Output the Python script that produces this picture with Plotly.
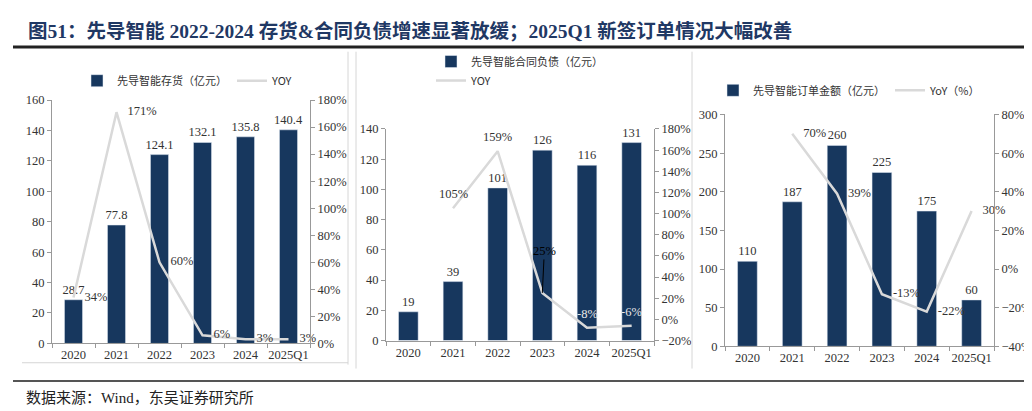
import plotly.graph_objects as go

W, H = 1032, 411

years = ['2020', '2021', '2022', '2023', '2024', '2025Q1']

# 存货
inventory = [28.7, 77.8, 124.1, 132.1, 135.8, 140.4]
inventory_yoy = [34, 171, 60, 6, 3, 3]

# 合同负债
contract_liab = [19, 39, 101, 126, 116, 131]
contract_yoy = [None, 105, 159, 25, -8, -6]

# 订单金额
orders = [110, 187, 260, 225, 175, 60]
orders_yoy = [None, 70, 39, -13, -22, 30]

BAR = '#17375e'
LINE = '#d9d9d9'
AXIS = '#999999'
NUM_FONT = 'Liberation Serif, Noto Sans CJK SC'
TXT = '#333333'


def px_x(v):
    return v / W


def px_y(v):
    return 1 - v / H


def pct(vals):
    return ['' if v is None else f'{v}%' for v in vals]


# invisible markers just to push the labels away from the line
ghost = dict(size=16, color='rgba(0,0,0,0)')

fig = go.Figure()

# panel 1
fig.add_trace(go.Bar(x=years, y=inventory, name='先导智能存货（亿元）', marker_color=BAR, width=0.42,
                     text=[f'{v:.1f}' for v in inventory], textposition='outside', cliponaxis=False,
                     constraintext='none', textfont=dict(family=NUM_FONT, size=12.5, color=TXT),
                     xaxis='x', yaxis='y', legend='legend'))
fig.add_trace(go.Scatter(x=years, y=inventory_yoy, name='YOY', mode='lines+markers+text',
                         line=dict(color=LINE, width=2.5), marker=ghost, text=pct(inventory_yoy),
                         textposition='middle right', cliponaxis=False,
                         textfont=dict(family=NUM_FONT, size=12.5, color=TXT),
                         xaxis='x', yaxis='y2', legend='legend'))

# panel 2
fig.add_trace(go.Bar(x=years, y=contract_liab, name='先导智能合同负债（亿元）', marker_color=BAR, width=0.44,
                     text=[str(v) for v in contract_liab], textposition='outside', cliponaxis=False,
                     constraintext='none', textfont=dict(family=NUM_FONT, size=12.5, color=TXT),
                     xaxis='x2', yaxis='y3', legend='legend2'))
fig.add_trace(go.Scatter(x=years, y=contract_yoy, name='YOY', mode='lines',
                         line=dict(color=LINE, width=2.5), cliponaxis=False,
                         xaxis='x2', yaxis='y4', legend='legend2'))

# panel 3
fig.add_trace(go.Bar(x=years, y=orders, name='先导智能订单金额（亿元）', marker_color=BAR, width=0.44,
                     text=[str(v) for v in orders], textposition='outside', cliponaxis=False,
                     constraintext='none', textfont=dict(family=NUM_FONT, size=12.5, color=TXT),
                     xaxis='x3', yaxis='y5', legend='legend3'))
fig.add_trace(go.Scatter(x=years, y=orders_yoy, name='YoY（%）', mode='lines+markers+text',
                         line=dict(color=LINE, width=2.5), marker=ghost, text=pct(orders_yoy),
                         textposition='middle right', cliponaxis=False,
                         textfont=dict(family=NUM_FONT, size=12.5, color=TXT),
                         xaxis='x3', yaxis='y6', legend='legend3'))

tick_font = dict(family=NUM_FONT, size=12.5, color=TXT)


def xax(x0, x1, anchor):
    return dict(domain=[px_x(x0), px_x(x1)], anchor=anchor, type='category',
                range=[-0.5, len(years) - 0.5], tickangle=0,
                showline=True, linecolor=AXIS, ticks='outside', tickson='boundaries',
                ticklen=4, tickcolor=AXIS, tickfont=tick_font, showgrid=False)


def yax_left(y_top, y_bot, anchor, rng, dtick):
    return dict(domain=[px_y(y_bot), px_y(y_top)], anchor=anchor, range=rng, dtick=dtick,
                showline=True, linecolor=AXIS, ticks='outside', ticklen=4, tickcolor=AXIS,
                tickfont=tick_font, showgrid=False, zeroline=False)


def yax_right(over, anchor, rng):
    return dict(overlaying=over, anchor=anchor, side='right', range=rng, dtick=20, ticksuffix='%',
                showline=True, linecolor=AXIS, ticks='outside', ticklen=4, tickcolor=AXIS,
                tickfont=tick_font, showgrid=False, zeroline=False)


leg_font = dict(family='Noto Sans CJK SC, Liberation Serif', size=11, color=TXT)

fig.update_layout(
    width=W, height=H, margin=dict(l=0, r=0, t=0, b=0),
    paper_bgcolor='white', plot_bgcolor='white',
    xaxis=xax(44, 302, 'y'),
    yaxis=yax_left(88, 340, 'x', [0, 160], 20),
    yaxis2=yax_right('y', 'x', [0, 180]),
    xaxis2=xax(378, 646, 'y3'),
    yaxis3=yax_left(118, 337, 'x2', [0, 140], 20),
    yaxis4=yax_right('y3', 'x2', [-20, 180]),
    xaxis3=xax(717, 986, 'y5'),
    yaxis5=yax_left(103, 343, 'x3', [0, 300], 50),
    yaxis6=yax_right('y5', 'x3', [-40, 80]),
    legend=dict(x=px_x(69), y=px_y(68), xanchor='left', yanchor='middle', orientation='h',
                font=leg_font, bgcolor='rgba(0,0,0,0)', itemwidth=30),
    legend2=dict(x=px_x(423), y=px_y(58), xanchor='left', yanchor='middle', orientation='v',
                 font=leg_font, bgcolor='rgba(0,0,0,0)', itemwidth=30, tracegroupgap=0),
    legend3=dict(x=px_x(705), y=px_y(78), xanchor='left', yanchor='middle', orientation='h',
                 font=leg_font, bgcolor='rgba(0,0,0,0)', itemwidth=30),
    showlegend=True,
)

# panel 2 YOY labels, placed above each point
for i, v in enumerate(contract_yoy):
    if v is None:
        continue
    label_color = '#e8e8e8' if i >= 4 else TXT
    if years[i] == '2023':
        # this one sits higher, with a black leader line
        fig.add_annotation(x=i, y=v, xref='x2', yref='y4', text=f'{v}%', showarrow=True,
                           ax=2, ay=-42, arrowhead=0, arrowwidth=1, arrowcolor='black',
                           font=dict(family=NUM_FONT, size=12.5, color='black'))
    else:
        fig.add_annotation(x=i, y=v, xref='x2', yref='y4', text=f'{v}%', showarrow=False,
                           yshift=14, font=dict(family=NUM_FONT, size=12.5, color=label_color))

# title, footer
fig.add_annotation(x=px_x(18), y=px_y(17), xref='paper', yref='paper', xanchor='left', yanchor='middle',
                   text='<b>图51：先导智能 2022-2024 存货&合同负债增速显著放缓；2025Q1 新签订单情况大幅改善</b>',
                   showarrow=False, font=dict(family=NUM_FONT, size=19.5, color='#1f3864'))
fig.add_annotation(x=px_x(16), y=px_y(396), xref='paper', yref='paper', xanchor='left', yanchor='middle',
                   text='数据来源：Wind，东吴证券研究所', showarrow=False,
                   font=dict(family=NUM_FONT, size=15, color='#222222'))

line_style = dict(xref='paper', yref='paper', type='line')
fig.add_shape(x0=px_x(5), x1=1, y0=px_y(33), y1=px_y(33), line=dict(color='#222222', width=3), **line_style)
fig.add_shape(x0=px_x(5), x1=1, y0=px_y(379), y1=px_y(379), line=dict(color='#555555', width=2), **line_style)
# panel borders
for x0, x1, y0, y1 in [(340, 340, 38, 362), (14, 340, 360, 360), (348, 348, 38, 366), (684, 684, 38, 366)]:
    fig.add_shape(x0=px_x(x0), x1=px_x(x1), y0=px_y(y0), y1=px_y(y1),
                  line=dict(color='#d6d6d6', width=1), **line_style)

fig.write_html('out.html')
